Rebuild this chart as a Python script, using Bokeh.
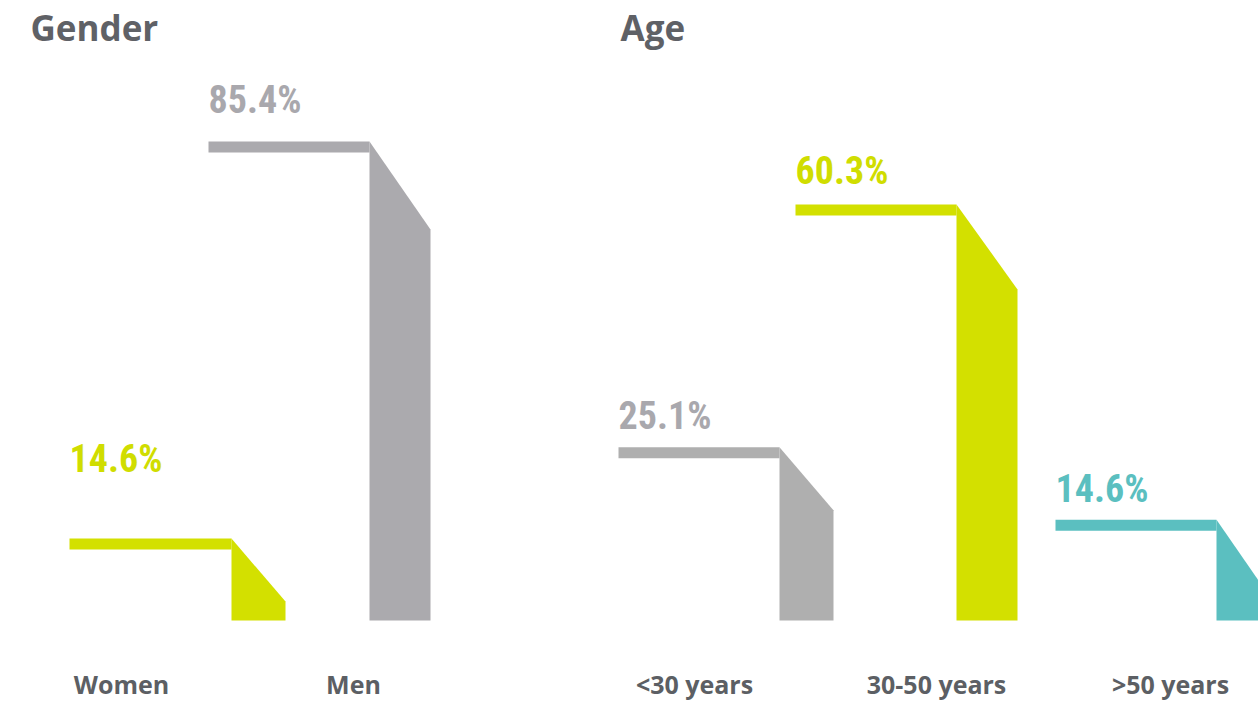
from bokeh.plotting import figure
from bokeh.models import Range1d, ColumnDataSource
from bokeh.core.properties import value
from bokeh.embed import file_html
from bokeh.resources import INLINE

# ---- data ----
gender_categories = ["Women", "Men"]
gender_values = [14.6, 85.4]
age_categories = ["<30 years", "30-50 years", ">50 years"]
age_values = [25.1, 60.3, 14.6]
panel_titles = ["Gender", "Age"]

# ---- layout / style (screen-pixel x coordinates) ----
W, H = 1258, 701
gender_style = dict(
    strip_x0=[69, 208], bend_x=[231, 369], bar_w=[54, 61], drop_px=[63, 88],
    label_gap=[80, 41], cat_x=[121, 353],
    color=["#d3e000", "#abaaae"], label_color=["#d0dd00", "#a9a8ad"],
)
age_style = dict(
    strip_x0=[618, 795, 1055], bend_x=[779, 956, 1216], bar_w=[54, 61, 54],
    drop_px=[63, 85, 78], label_gap=[31, 33, 31], cat_x=[694, 936, 1170],
    color=["#afafaf", "#d3e000", "#5bbfc0"], label_color=["#a9a8ad", "#d0dd00", "#5bbfc0"],
)
STRIP_PX = 11
BASE_FROM_BOTTOM = 81  # px from plot bottom to the bars' baseline
K_GENDER = 5.609       # px per percent
K_AGE = 6.9
PCT_FONT = "'Roboto Condensed', 'Open Sans Condensed', 'DejaVu Sans Condensed', 'Liberation Sans Narrow', 'Arial Narrow', sans-serif"

def vrange(k):
    start = -BASE_FROM_BOTTOM / k
    return Range1d(start, start + H / k)

p = figure(width=W, height=H, output_backend="svg", toolbar_location=None,
           x_range=Range1d(0, W), y_range=vrange(K_GENDER),
           min_border=0, outline_line_color=None,
           x_axis_location=None, y_axis_location=None)
p.xgrid.visible = False
p.ygrid.visible = False
p.background_fill_color = "white"
p.border_fill_color = "white"
p.extra_y_ranges = {"age": vrange(K_AGE), "px": Range1d(H, 0)}

def draw_panel(cats, vals, st, k, range_name):
    n = len(vals)
    strip = ColumnDataSource(dict(
        left=st["strip_x0"], right=st["bend_x"],
        top=vals, bottom=[v - STRIP_PX / k for v in vals], color=st["color"]))
    p.quad(left="left", right="right", top="top", bottom="bottom",
           fill_color="color", line_color=None, source=strip, y_range_name=range_name)
    xs, ys = [], []
    for i in range(n):
        b, w, v = st["bend_x"][i], st["bar_w"][i], vals[i]
        xs.append([b, b + w, b + w, b])
        ys.append([v, v - st["drop_px"][i] / k, 0, 0])
    p.patches(xs=xs, ys=ys, fill_color=st["color"], line_color=None,
              y_range_name=range_name)
    for i in range(n):
        p.text(x=[st["strip_x0"][i]], y=[vals[i]], text=[f"{vals[i]:.1f}%"],
               y_offset=-st["label_gap"][i], text_align="left",
               text_baseline="alphabetic", text_color=st["label_color"][i],
               text_font=value(PCT_FONT), text_font_style="bold",
               text_font_size="38px", y_range_name=range_name)
    p.text(x=st["cat_x"], y=[683] * n, text=cats, text_align="center",
           text_baseline="alphabetic", text_color="#5c5f64",
           text_font=value("Open Sans"), text_font_style="bold",
           text_font_size="25px", y_range_name="px")

draw_panel(gender_categories, gender_values, gender_style, K_GENDER, "default")
draw_panel(age_categories, age_values, age_style, K_AGE, "age")

p.text(x=[30, 620], y=[27, 27], text=panel_titles, text_align="left",
       text_baseline="alphabetic", text_color="#5f6166",
       text_font=value("Open Sans"), text_font_style="bold",
       text_font_size="35px", y_range_name="px")

open("out.html", "w").write(file_html(p, INLINE))
